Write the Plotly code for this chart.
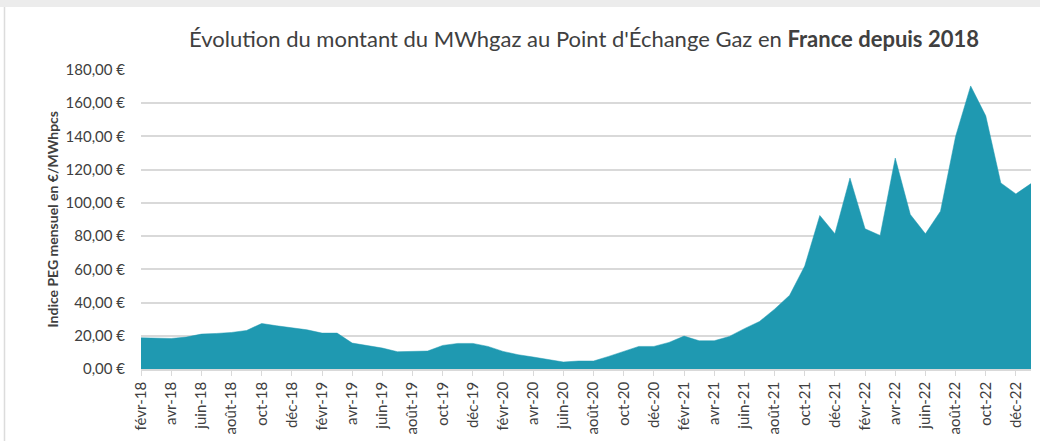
import plotly.graph_objects as go

months = [
    "févr-18", "mars-18", "avr-18", "mai-18", "juin-18", "juil-18", "août-18", "sept-18", "oct-18", "nov-18", "déc-18",
    "janv-19", "févr-19", "mars-19", "avr-19", "mai-19", "juin-19", "juil-19", "août-19", "sept-19", "oct-19", "nov-19", "déc-19",
    "janv-20", "févr-20", "mars-20", "avr-20", "mai-20", "juin-20", "juil-20", "août-20", "sept-20", "oct-20", "nov-20", "déc-20",
    "janv-21", "févr-21", "mars-21", "avr-21", "mai-21", "juin-21", "juil-21", "août-21", "sept-21", "oct-21", "nov-21", "déc-21",
    "janv-22", "févr-22", "mars-22", "avr-22", "mai-22", "juin-22", "juil-22", "août-22", "sept-22", "oct-22", "nov-22", "déc-22",
    "janv-23",
]

peg_values = [
    18.8, 18.6, 18.4, 19.2, 21.0, 21.4, 22.0, 23.2, 27.4, 26.0, 24.6,
    23.6, 21.6, 21.6, 15.6, 14.2, 12.6, 10.4, 10.4, 10.8, 14.2, 15.4, 15.4,
    13.6, 10.6, 8.6, 7.2, 5.6, 4.2, 4.8, 4.8, 7.6, 10.4, 13.6, 13.6,
    16.0, 19.8, 17.0, 17.0, 19.6, 24.3, 28.6, 36.0, 44.4, 62.0, 92.4, 81.4,
    115.0, 84.4, 80.4, 127.0, 93.0, 81.4, 95.0, 140.0, 170.4, 152.4, 112.0, 105.4,
    111.6,
]

x_tick_labels = [
    "févr-18", "avr-18", "juin-18", "août-18", "oct-18", "déc-18",
    "févr-19", "avr-19", "juin-19", "août-19", "oct-19", "déc-19",
    "févr-20", "avr-20", "juin-20", "août-20", "oct-20", "déc-20",
    "févr-21", "avr-21", "juin-21", "août-21", "oct-21", "déc-21",
    "févr-22", "avr-22", "juin-22", "août-22", "oct-22", "déc-22",
]

y_tick_values = [0, 20, 40, 60, 80, 100, 120, 140, 160, 180]
y_tick_labels = ["0,00 €", "20,00 €", "40,00 €", "60,00 €", "80,00 €",
                 "100,00 €", "120,00 €", "140,00 €", "160,00 €", "180,00 €"]

TEAL = "#1f99b1"
TEXT = "#404040"
GRID = "#d9d9d9"
FONT = "Lato, 'Open Sans', sans-serif"

fig = go.Figure()
fig.add_trace(go.Scatter(
    x=months, y=peg_values, mode="lines", fill="tozeroy",
    line=dict(color=TEAL, width=0.5), fillcolor=TEAL, showlegend=False,
))

# page-like frame (light grey top band and left border)
fig.add_shape(type="rect", xref="paper", yref="paper",
              x0=-0.17, x1=1.02, y0=(369.5 - 7) / 299.5, y1=1.3,
              fillcolor="#ececec", line=dict(width=0), layer="below")
fig.add_shape(type="line", xref="paper", yref="paper",
              x0=(4.5 - 141) / 890, x1=(4.5 - 141) / 890,
              y0=-0.3, y1=(369.5 - 7) / 299.5,
              line=dict(color="#dcdcdc", width=1.5))

fig.update_layout(
    width=1040, height=441,
    margin=dict(l=141, r=9, t=70, b=71.5, autoexpand=False),
    paper_bgcolor="white", plot_bgcolor="white",
    font=dict(family=FONT, color=TEXT, size=14),
    title=dict(
        text="Évolution du montant du MWhgaz au Point d'Échange Gaz en <b>France depuis 2018</b>",
        x=584 / 1040, xanchor="center", y=1 - 39 / 441, yanchor="middle",
        font=dict(family=FONT, size=22, color=TEXT),
    ),
    xaxis=dict(
        type="category", range=[0, len(months) - 1], automargin=False,
        tickmode="array", tickvals=x_tick_labels, ticktext=x_tick_labels,
        tickangle=-90, ticks="outside", ticklen=5, tickcolor=GRID, tickwidth=1,
        showgrid=False, showline=True, linecolor=GRID, linewidth=1.5,
        tickfont=dict(size=15, color=TEXT), zeroline=False,
    ),
    yaxis=dict(
        range=[0, 180], automargin=False,
        tickmode="array", tickvals=y_tick_values, ticktext=y_tick_labels,
        showgrid=True, gridcolor=GRID, gridwidth=1.5, zeroline=False,
        showline=False, ticks="", ticklabelstandoff=15,
        tickfont=dict(size=15, color=TEXT),
    ),
    annotations=[dict(
        text="<b>Indice PEG mensuel en €/MWhpcs</b>", textangle=-90,
        xref="paper", yref="paper", x=0, y=0.5, xshift=52 - 141,
        xanchor="center", yanchor="middle", showarrow=False,
        font=dict(size=14, color=TEXT, family=FONT),
    )],
)

fig.write_html(
    "out.html",
    config={"displayModeBar": False},
    post_script="document.body.style.margin='0';document.body.style.overflow='hidden';",
)
